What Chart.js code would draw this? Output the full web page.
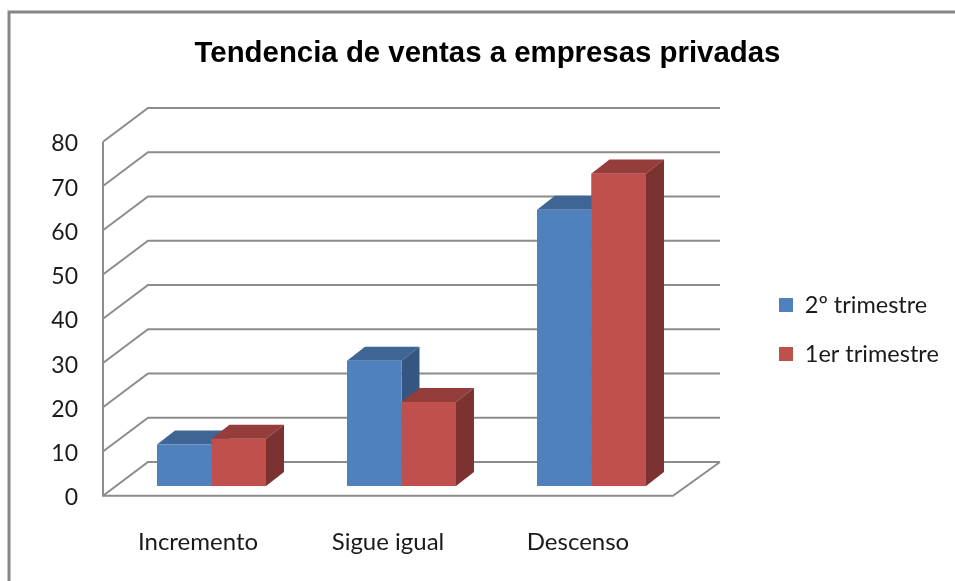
<!DOCTYPE html>
<html><head><meta charset="utf-8">
<style>html,body{margin:0;padding:0;background:#fff}#w{width:955px;height:581px;position:relative}</style>
<script src="https://cdn.jsdelivr.net/npm/chart.js@4"></script></head>
<body><div id="w"><canvas id="c" width="955" height="581"></canvas></div>
<script>
const chartTitle = 'Tendencia de ventas a empresas privadas';
const categories = ['Incremento', 'Sigue igual', 'Descenso'];
const seriesNames = ['2º trimestre', '1er trimestre'];
const trimestre2 = [9.4, 28.3, 62.4];
const trimestre1 = [10.7, 19, 70.6];
const frontColors = ['#4F81BD', '#C0504D'];
const topColors = ['#3E6593', '#953D3B'];
const sideColors = ['#345680', '#7B3230'];
const GRID = '#8C8C8C';
const TEXT = '#1a1a1a';
const FONT = 'Lato';

function drawDepth(c, meta, i) {
  const dx = 18, dy = -14;
  meta.data.forEach(b => {
    const l = b.x - b.width / 2, r = b.x + b.width / 2, t = b.y, bt = b.base;
    c.fillStyle = topColors[i];
    c.beginPath(); c.moveTo(l, t); c.lineTo(l + dx, t + dy); c.lineTo(r + dx, t + dy); c.lineTo(r, t); c.closePath(); c.fill();
    c.fillStyle = sideColors[i];
    c.beginPath(); c.moveTo(r, t); c.lineTo(r + dx, t + dy); c.lineTo(r + dx, bt + dy); c.lineTo(r, bt); c.closePath(); c.fill();
  });
}

const wall3d = {
  id: 'wall3d',
  afterLayout(chart) {
    const lg = chart.legend;
    lg.left = 753.5; lg.right = 945; lg.top = 267.75; lg.bottom = 400;
    const tb = chart.titleBlock;
    tb.left = 10; tb.right = 965;
  },
  beforeDraw(chart) {
    const c = chart.ctx, x = chart.scales.x, y = chart.scales.y;
    const L = x.left, R = x.right;
    const fx = -13.5, fy = 9.7, bx = 31.5, by = -24, bxR = 33.5;
    c.save();
    c.fillStyle = '#fff'; c.fillRect(0, 0, chart.width, chart.height);
    c.strokeStyle = '#868686'; c.lineWidth = 3;
    c.beginPath(); c.moveTo(9, 581); c.lineTo(9, 12); c.lineTo(955, 12); c.stroke();
    c.strokeStyle = GRID;
    y.ticks.forEach(t => {
      const p = y.getPixelForValue(t.value);
      c.lineWidth = 2;
      c.beginPath();
      c.moveTo(L + fx, p + fy); c.lineTo(L + bx, p + by); c.lineTo(R + bxR, p + by);
      c.stroke();
    });
    const p0 = y.getPixelForValue(0), p8 = y.getPixelForValue(80);
    c.beginPath();
    c.moveTo(L + fx, p8 + fy); c.lineTo(L + fx, p0 + fy); c.lineTo(R + fx, p0 + fy); c.lineTo(R + bxR, p0 + by);
    c.lineWidth = 2; c.stroke();
    c.restore();
  },
  beforeDatasetDraw(chart, args) {
    if (args.index === 0) drawDepth(chart.ctx, args.meta, 0);
  },
  afterDatasetDraw(chart, args) {
    if (args.index === 0) {
      const red = chart.getDatasetMeta(1);
      drawDepth(chart.ctx, red, 1);
      red.data.forEach(b => b.draw(chart.ctx));
    }
  }
};

new Chart(document.getElementById('c'), {
  type: 'bar',
  plugins: [wall3d],
  data: {
    labels: categories,
    datasets: [
      { label: seriesNames[0], data: trimestre2, backgroundColor: frontColors[0] },
      { label: seriesNames[1], data: trimestre1, backgroundColor: frontColors[1] }
    ]
  },
  options: {
    responsive: false, animation: false,
    layout: { padding: { left: 0, top: 0, bottom: 0, right: 267.5 } },
    categoryPercentage: 0.5737, barPercentage: 1,
    plugins: {
      tooltip: { enabled: false },
      title: { display: true, text: chartTitle, color: '#000',
        font: { family: 'Liberation Sans', size: 29.4, weight: 'bold', lineHeight: 1.2 },
        padding: { top: 36, bottom: 60.7 } },
      legend: { position: 'right', maxWidth: 1, align: 'start',
        labels: { boxWidth: 14, boxHeight: 14, padding: 25.5, color: TEXT, font: { family: FONT, size: 23.5 } } }
    },
    scales: {
      x: { grid: { display: false, drawTicks: false }, border: { display: false },
        afterFit: s => { s.height = 95; },
        ticks: { color: TEXT, padding: 42, labelOffset: -13.5, maxRotation: 0, font: { family: FONT, size: 24 } } },
      y: { min: 0, max: 80, grid: { display: false, drawTicks: false }, border: { display: false },
        afterFit: s => { s.width = 116.5; },
        ticks: { stepSize: 10, color: TEXT, padding: 38.5, labelOffset: 12, font: { family: FONT, size: 23 } } }
    }
  }
});
</script></body></html>
